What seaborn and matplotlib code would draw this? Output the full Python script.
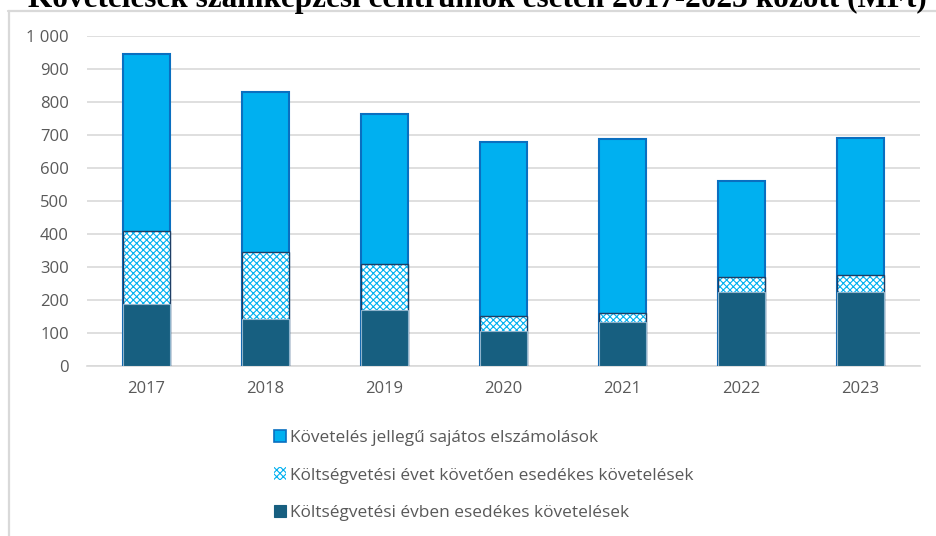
import matplotlib
matplotlib.use("Agg")
import matplotlib.pyplot as plt
import matplotlib.patches as mpatches
from matplotlib.lines import Line2D
from matplotlib.ticker import FuncFormatter, MultipleLocator
import seaborn as sns
import pandas as pd
import numpy as np

# Data (MFt)
years = ["2017", "2018", "2019", "2020", "2021", "2022", "2023"]
current_year = [187, 142, 170, 106, 133, 224, 224]          # Költségvetési évben esedékes követelések
following_years = [222, 203, 139, 45, 27, 46, 52]          # Költségvetési évet követően esedékes követelések
special_settlements = [536, 485, 455, 528, 528, 291, 415]   # Követelés jellegű sajátos elszámolások

labels = [
    "Követelés jellegű sajátos elszámolások",
    "Költségvetési évet követően esedékes követelések",
    "Költségvetési évben esedékes követelések",
]
title = "Követelések számképzési centrumok esetén 2017-2023 között (MFt)"

LIGHT = "#00B0F0"
LIGHT_EDGE = "#0A6FC0"
DARK = "#175F80"
DARK_EDGE = "#8FB4CC"
PAT_EDGE = "#1F3F66"
GRID = "#D9D9D9"
TXT = "#595959"

df = pd.DataFrame({
    "year": years,
    "low": current_year,
    "mid": np.array(current_year) + np.array(following_years),
    "top": np.array(current_year) + np.array(following_years) + np.array(special_settlements),
})

sns.set_theme(style="white")
plt.rcParams["font.family"] = ["Open Sans", "DejaVu Sans"]
plt.rcParams["hatch.linewidth"] = 0.8

fig = plt.figure(figsize=(9.36, 5.36), dpi=100)
ax = fig.add_axes([87 / 936, 1 - 366 / 536, 833 / 936, 330 / 536])

W = 0.4
# stacked bars drawn as cumulative totals, back to front
sns.barplot(data=df, x="year", y="top", color=LIGHT, width=W, errorbar=None,
            saturation=1, edgecolor=LIGHT_EDGE, linewidth=1.5, ax=ax, zorder=3)
sns.barplot(data=df, x="year", y="mid", color="white", width=W, errorbar=None,
            saturation=1, edgecolor=LIGHT, linewidth=0, hatch="xxxxx", ax=ax, zorder=3)
sns.barplot(data=df, x="year", y="mid", fill=False, width=W, errorbar=None,
            edgecolor=PAT_EDGE, linewidth=1.0, ax=ax, zorder=3)
sns.barplot(data=df, x="year", y="low", color=DARK, width=W, errorbar=None,
            saturation=1, edgecolor=DARK_EDGE, linewidth=0.8, ax=ax, zorder=4)

ax.set_ylim(0, 1000)
ax.set_xlim(-0.5, len(years) - 0.5)
ax.yaxis.set_major_locator(MultipleLocator(100))
ax.yaxis.set_major_formatter(FuncFormatter(lambda v, p: f"{int(v):,}".replace(",", " ")))
ax.grid(axis="y", color=GRID, linewidth=1.2, zorder=0)
ax.set_axisbelow(True)
for s in ["top", "right", "left"]:
    ax.spines[s].set_visible(False)
ax.spines["bottom"].set_color(GRID)
ax.spines["bottom"].set_linewidth(1.2)
ax.tick_params(axis="y", length=0, pad=13, labelsize=12, labelcolor=TXT)
ax.tick_params(axis="x", length=0, pad=11, labelsize=12, labelcolor=TXT)
ax.set_xlabel("")
ax.set_ylabel("")

handles = [
    mpatches.Patch(facecolor=LIGHT, edgecolor=LIGHT_EDGE, linewidth=1.2),
    mpatches.Patch(facecolor="white", edgecolor=LIGHT, hatch="xxxxx", linewidth=0),
    mpatches.Patch(facecolor=DARK, edgecolor=DARK, linewidth=0.8),
]
leg = fig.legend(handles, labels, loc="upper left", bbox_to_anchor=(267 / 936, 1 - 423 / 536),
                 frameon=False, fontsize=12.4, labelcolor=TXT, handlelength=0.7,
                 handleheight=0.7, handletextpad=0.25, labelspacing=1.25, borderaxespad=0)

# chart frame
fig.add_artist(Line2D([8 / 936, 1], [1 - 11 / 536] * 2, color=GRID, linewidth=1.6))
fig.add_artist(Line2D([8.5 / 936] * 2, [0, 1 - 11 / 536], color=GRID, linewidth=1.6))

fig.text(28 / 936, 1 - 7 / 536, title, ha="left", va="baseline",
         fontfamily="Liberation Serif", fontweight="bold", fontsize=22.5, color="black")

fig.savefig("out.png", dpi=100)
